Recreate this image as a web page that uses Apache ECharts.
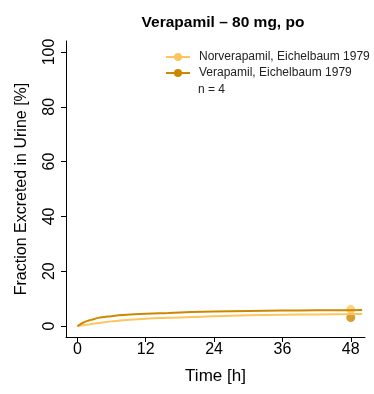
<!DOCTYPE html>
<html><head><meta charset="utf-8">
<script src="https://cdn.jsdelivr.net/npm/echarts@6/dist/echarts.min.js"></script>
<style>html,body{margin:0;padding:0;background:#fff}#c{width:374px;height:394px}</style>
</head><body><div id="c"></div>
<script>
const title = 'Verapamil \u2013 80 mg, po';
const xTicks = [0, 12, 24, 36, 48];
const yTicks = [0, 20, 40, 60, 80, 100];
const seriesNames = ['Norverapamil, Eichelbaum 1979', 'Verapamil, Eichelbaum 1979'];
const norSimTime = [0, 1, 2, 3, 4, 6, 8, 12, 16, 20, 24, 30, 36, 42, 48, 50];
const norSimValue = [0, 0.3, 0.6, 0.9, 1.2, 1.7, 2.1, 2.7, 3.0, 3.3, 3.6, 3.9, 4.1, 4.25, 4.35, 4.4];
const verSimTime = [0, 0.5, 1, 1.5, 2, 3, 4, 6, 8, 12, 16, 20, 24, 30, 36, 42, 48, 50];
const verSimValue = [0, 0.6, 1.2, 1.7, 2.0, 2.6, 3.1, 3.6, 4.0, 4.5, 4.8, 5.1, 5.3, 5.5, 5.65, 5.75, 5.8, 5.82];
const norObsTime = [48];
const norObsValue = [6.0];
const verObsTime = [48];
const verObsValue = [3.1];
const colors = ['#FDC55E', '#CC8800'];

const zip = (a, b) => a.map((v, i) => [v, b[i]]);
const FONT = 'Liberation Sans';
const chart = echarts.init(document.getElementById('c'), null, {renderer: 'canvas'});
chart.setOption({
  animation: false,
  textStyle: {fontFamily: FONT},
  title: {text: title, left: 218, top: 10, textAlign: 'center',
    textStyle: {fontFamily: FONT, fontWeight: 'bold', fontSize: 15.5, color: '#000'}},
  grid: {left: 66, right: 9, top: 41, bottom: 57, containLabel: false, outerBoundsMode: 'none'},
  legend: {
    data: seriesNames, orient: 'vertical', left: 165, top: 51, padding: 0, itemWidth: 24, itemHeight: 10,
    itemGap: 4, textStyle: {fontFamily: FONT, fontSize: 12, color: '#222', padding: [0, 0, 0, 4]}
  },
  graphic: [{type: 'text', left: 198, top: 84, style: {text: 'n = 4', font: '12px "Liberation Sans"', fill: '#222'}}],
  xAxis: {
    type: 'value', min: -2, max: 50.5,
    name: 'Time [h]', nameLocation: 'middle', nameGap: 31,
    nameTextStyle: {fontFamily: FONT, fontSize: 17, color: '#000'},
    axisLine: {show: true, onZero: false, lineStyle: {color: '#000', width: 1}},
    axisTick: {show: true, length: 5, customValues: xTicks, lineStyle: {color: '#000'}},
    axisLabel: {customValues: xTicks, fontSize: 16, color: '#000', margin: 5, fontFamily: FONT},
    splitLine: {show: false}
  },
  yAxis: {
    type: 'value', min: -4, max: 104,
    name: 'Fraction Excreted in Urine [%]', nameLocation: 'middle', nameGap: 36,
    nameTextStyle: {fontFamily: FONT, fontSize: 16, color: '#000'},
    axisLine: {show: true, onZero: false, lineStyle: {color: '#000', width: 1}},
    axisTick: {show: true, length: 5, customValues: yTicks, lineStyle: {color: '#000'}},
    axisLabel: {customValues: yTicks, rotate: 90, fontSize: 16, color: '#000', margin: 8, fontFamily: FONT},
    splitLine: {show: false}
  },
  series: [
    {name: seriesNames[0], type: 'line', data: zip(norSimTime, norSimValue), showSymbol: false, symbol: 'circle', symbolSize: 7,
     smooth: true, color: colors[0], lineStyle: {width: 2, color: colors[0]}},
    {name: seriesNames[1], type: 'line', data: zip(verSimTime, verSimValue), showSymbol: false, symbol: 'circle', symbolSize: 7,
     smooth: true, color: colors[1], lineStyle: {width: 2, color: colors[1]}},
    {name: seriesNames[0] + ' obs', type: 'scatter', data: zip(norObsTime, norObsValue), symbol: 'circle', symbolSize: 9,
     itemStyle: {color: colors[0]}},
    {name: seriesNames[1] + ' obs', type: 'scatter', data: zip(verObsTime, verObsValue), symbol: 'circle', symbolSize: 9,
     itemStyle: {color: colors[1]}}
  ]
});
</script></body></html>
